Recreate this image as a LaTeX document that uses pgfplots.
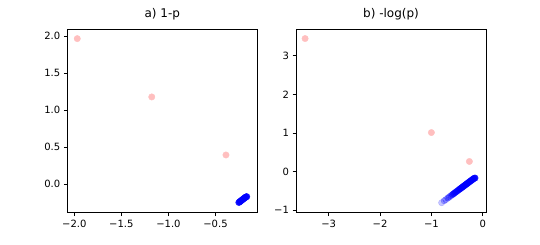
\documentclass[border=0pt]{standalone}
\usepackage{fontspec}
\setmainfont{DejaVu Sans}
\usepackage{pgfplots}
\pgfplotsset{compat=1.18}
\definecolor{pinkpt}{RGB}{255,191,191}

\pgfplotsset{
  panel/.style={
    scale only axis,
    width=190pt, height=183.4pt,
    axis line style={line width=0.8pt},
    tick align=outside,
    tick pos=left,
    major tick length=3.5pt,
    every tick/.style={black, line width=0.8pt},
    tick label style={font=\fontsize{10}{12}\selectfont},
    title style={font=\fontsize{12}{14}\selectfont, at={(0.5,1)}, anchor=south, yshift=0pt},
    /pgf/number format/assume math mode=true,
    clip=false,
  },
}

\begin{document}
\begin{tikzpicture}[x=1pt,y=1pt]
\path (0,0) rectangle (540,244);

% a) 1-p
\begin{axis}[panel, at={(67.3pt,31.3pt)}, anchor=south west,
  title={a) 1-p},
  xmin=-2.074, xmax=-0.056, ymin=-0.388, ymax=2.09,
  xtick={-2,-1.5,-1,-0.5}, xticklabels={−2.0,−1.5,−1.0,−0.5},
  ytick={0,0.5,1,1.5,2}, yticklabels={0.0,0.5,1.0,1.5,2.0}]
\addplot[only marks, mark=*, mark size=3.2pt, color=pinkpt] coordinates {
  (-1.968,1.964) (-1.177,1.176) (-0.389,0.392)
};
\addplot[only marks, mark=*, mark size=3.2pt, color=blue, opacity=0.8] coordinates {
  (-0.252,-0.250) (-0.245,-0.243) (-0.238,-0.236) (-0.231,-0.229)
  (-0.224,-0.222) (-0.217,-0.215) (-0.210,-0.208) (-0.203,-0.201)
  (-0.196,-0.194) (-0.189,-0.187) (-0.182,-0.180) (-0.175,-0.174)
  (-0.168,-0.171)
};
\end{axis}

% b) -log(p)
\begin{axis}[panel, at={(296pt,31.3pt)}, anchor=south west,
  title={b) -log(p)},
  xmin=-3.637, xmax=0.064, ymin=-1.07, ymax=3.69,
  xtick={-3,-2,-1,0}, xticklabels={−3,−2,−1,0},
  ytick={-1,0,1,2,3}, yticklabels={−1,0,1,2,3}]
\addplot[only marks, mark=*, mark size=3.2pt, color=pinkpt] coordinates {
  (-3.46,3.45) (-1.00,1.01) (-0.26,0.26)
};
\addplot[only marks, mark=*, mark size=3.2pt, color=blue, opacity=0.22] coordinates {
  (-0.80,-0.81)
};
\addplot[only marks, mark=*, mark size=3.2pt, color=blue, opacity=0.28] coordinates {
  (-0.75,-0.76) (-0.72,-0.73)
};
\addplot[only marks, mark=*, mark size=3.2pt, color=blue, opacity=0.38] coordinates {
  (-0.68,-0.69) (-0.65,-0.66) (-0.62,-0.63)
};
\addplot[only marks, mark=*, mark size=3.2pt, color=blue, opacity=0.55] coordinates {
  (-0.59,-0.60) (-0.57,-0.58) (-0.55,-0.56) (-0.53,-0.54) (-0.51,-0.52)
  (-0.49,-0.50) (-0.47,-0.48)
};
\addplot[only marks, mark=*, mark size=3.2pt, color=blue, opacity=0.85] coordinates {
  (-0.45,-0.46) (-0.43,-0.44) (-0.41,-0.42) (-0.39,-0.40) (-0.37,-0.38)
  (-0.35,-0.36) (-0.33,-0.34) (-0.31,-0.32) (-0.29,-0.30) (-0.27,-0.28)
  (-0.25,-0.26) (-0.23,-0.24) (-0.21,-0.22) (-0.19,-0.20) (-0.17,-0.18)
  (-0.15,-0.17)
};
\end{axis}
\end{tikzpicture}
\end{document}
